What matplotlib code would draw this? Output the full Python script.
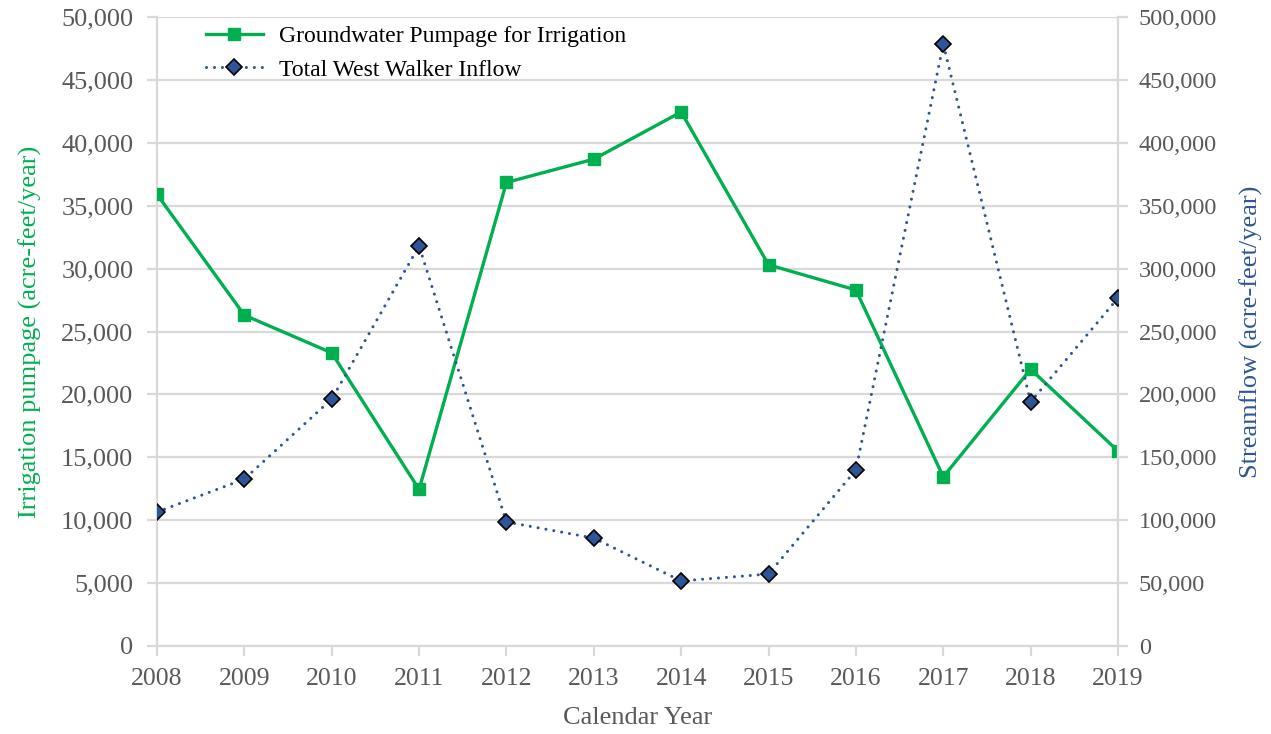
import matplotlib
matplotlib.use("Agg")
import matplotlib.pyplot as plt
from matplotlib.ticker import FuncFormatter, MultipleLocator

# Data
years = [2008, 2009, 2010, 2011, 2012, 2013, 2014, 2015, 2016, 2017, 2018, 2019]
pumpage = [35900, 26300, 23300, 12450, 36850, 38700, 42450, 30300, 28300, 13450, 22000, 15500]
inflow = [106500, 132700, 196300, 318000, 98600, 85800, 51700, 57200, 139900, 478500, 194000, 276600]

plt.rcParams["font.family"] = ["Liberation Serif", "DejaVu Serif"]

green = "#00B050"
blue = "#2F5597"
gray_text = "#595959"
grid_col = "#D9D9D9"

fig = plt.figure(figsize=(12.71, 7.34), dpi=100)
ax = fig.add_axes([157 / 1271, 88 / 734, (1118 - 157) / 1271, (646 - 17) / 734])
ax2 = ax.twinx()

ax.plot(years, pumpage, color=green, lw=2.4, marker="s", ms=9,
        label="Groundwater Pumpage for Irrigation", zorder=3)
ax2.plot(years, inflow, color=blue, lw=2.2, ls=(0, (0.01, 2.6)), dash_capstyle="round",
         marker="D", ms=8, mfc=blue, mec="black", mew=1.2,
         label="Total West Walker Inflow", zorder=3)

ax.set_xlim(2008, 2019)
ax.set_ylim(0, 50000)
ax2.set_ylim(0, 500000)
ax.set_xticks(years)
ax.yaxis.set_major_locator(MultipleLocator(5000))
ax2.yaxis.set_major_locator(MultipleLocator(50000))
fmt = FuncFormatter(lambda v, p: f"{int(v):,}")
ax.yaxis.set_major_formatter(fmt)
ax2.yaxis.set_major_formatter(fmt)

ax.grid(axis="y", color=grid_col, lw=1.6)
ax.set_axisbelow(True)

for a in (ax, ax2):
    for s in a.spines.values():
        s.set_visible(False)
    a.tick_params(colors=gray_text, length=7, width=1.6, color=grid_col)
ax.spines["left"].set_visible(True)
ax.spines["bottom"].set_visible(True)
ax2.spines["right"].set_visible(True)
for sp in (ax.spines["left"], ax.spines["bottom"], ax2.spines["right"]):
    sp.set_color(grid_col)
    sp.set_linewidth(1.6)
ax.tick_params(axis="x", pad=9, labelsize=18.5)
ax.tick_params(axis="y", pad=10, labelsize=19)
ax2.tick_params(axis="y", pad=8, labelsize=17.5)

ax.set_xlabel("Calendar Year", fontsize=19, color=gray_text, labelpad=12)
ax.set_ylabel("Irrigation pumpage (acre-feet/year)", fontsize=19, color=green, labelpad=14)
ax2.set_ylabel("Streamflow (acre-feet/year)", fontsize=19, color=blue, labelpad=16)

h1, l1 = ax.get_legend_handles_labels()
h2, l2 = ax2.get_legend_handles_labels()
ax2.legend(h1 + h2, l1 + l2, loc="upper left", bbox_to_anchor=(0.029, 1.02),
           frameon=False, fontsize=17, handlelength=2.4, handletextpad=0.7,
           labelspacing=0.5)

fig.savefig("out.png", dpi=100)
